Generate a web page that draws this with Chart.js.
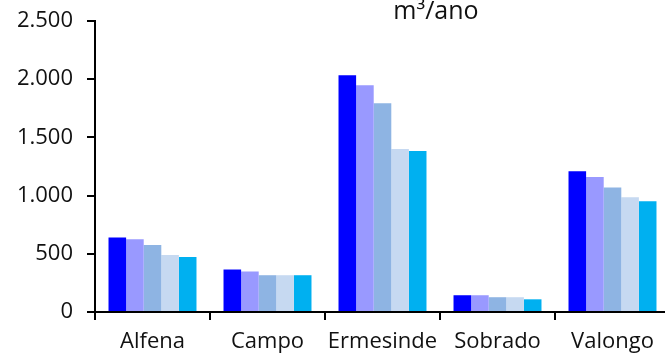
<!DOCTYPE html>
<html>
<head>
<meta charset="utf-8">
<script src="https://cdn.jsdelivr.net/npm/chart.js"></script>
<style>
    html, body { margin: 0; padding: 0; background: #fff; overflow: hidden; }
    #wrap { width: 670px; height: 353px; position: relative; }
</style>
</head>
<body>
<div id="wrap"><canvas id="chart"></canvas></div>
<script>
// 데이터
const categories = ['Alfena', 'Campo', 'Ermesinde', 'Sobrado', 'Valongo'];
const serie1 = [641, 365, 2034, 144, 1210];
const serie2 = [624, 348, 1948, 144, 1159];
const serie3 = [575, 316, 1793, 127, 1069];
const serie4 = [489, 316, 1400, 127, 986];
const serie5 = [472, 316, 1383, 109, 952];
const yTicks = [0, 500, 1000, 1500, 2000, 2500];
const colors = ['#0000FF', '#9999FF', '#8EB4E3', '#C6D9F1', '#00B0F0'];

const fontFamily = '"Open Sans", sans-serif';

// 단위 텍스트 (m³/ano)
const unitLabel = {
    id: 'unitLabel',
    afterDraw(chart) {
        const { ctx, chartArea } = chart;
        ctx.save();
        ctx.font = '25px ' + fontFamily;
        ctx.fillStyle = '#111';
        ctx.textAlign = 'center';
        ctx.textBaseline = 'alphabetic';
        const x = chartArea.left + (chartArea.right - chartArea.left) * 0.593;
        ctx.fillText('m³/ano', x, 19);
        ctx.restore();
    }
};

const ctx = document.getElementById('chart').getContext('2d');
new Chart(ctx, {
    type: 'bar',
    data: {
        labels: categories,
        datasets: [serie1, serie2, serie3, serie4, serie5].map((d, i) => ({
            data: d,
            backgroundColor: colors[i],
            borderWidth: 0,
            categoryPercentage: 0.765,
            barPercentage: 1
        }))
    },
    options: {
        responsive: true,
        maintainAspectRatio: false,
        animation: false,
        layout: { padding: { left: 0, top: 21, right: 0, bottom: 0 } },
        plugins: {
            legend: { display: false },
            title: { display: false },
            tooltip: { enabled: false }
        },
        scales: {
            x: {
                afterFit: axis => { axis.height = 41; },
                grid: {
                    display: true,
                    drawOnChartArea: false,
                    drawTicks: true,
                    tickLength: 8,
                    color: '#000',
                    lineWidth: 2,
                    offset: true
                },
                border: { display: true, color: '#000', width: 2 },
                ticks: {
                    color: '#111',
                    padding: 9,
                    font: { family: fontFamily, size: 22 },
                    maxRotation: 0
                }
            },
            y: {
                min: 0,
                max: 2500,
                afterFit: axis => {
                    axis.width = 95;
                    axis.paddingTop = 0;
                    axis.paddingBottom = 0;
                },
                afterBuildTicks: axis => { axis.ticks = yTicks.map(v => ({ value: v })); },
                grid: {
                    display: true,
                    drawOnChartArea: false,
                    drawTicks: true,
                    tickLength: 8,
                    color: '#000',
                    lineWidth: 2
                },
                border: { display: true, color: '#000', width: 2 },
                ticks: {
                    color: '#111',
                    padding: 14,
                    font: { family: fontFamily, size: 22 },
                    callback: v => v.toLocaleString('de-DE')
                }
            }
        }
    },
    plugins: [unitLabel]
});
</script>
</body>
</html>
